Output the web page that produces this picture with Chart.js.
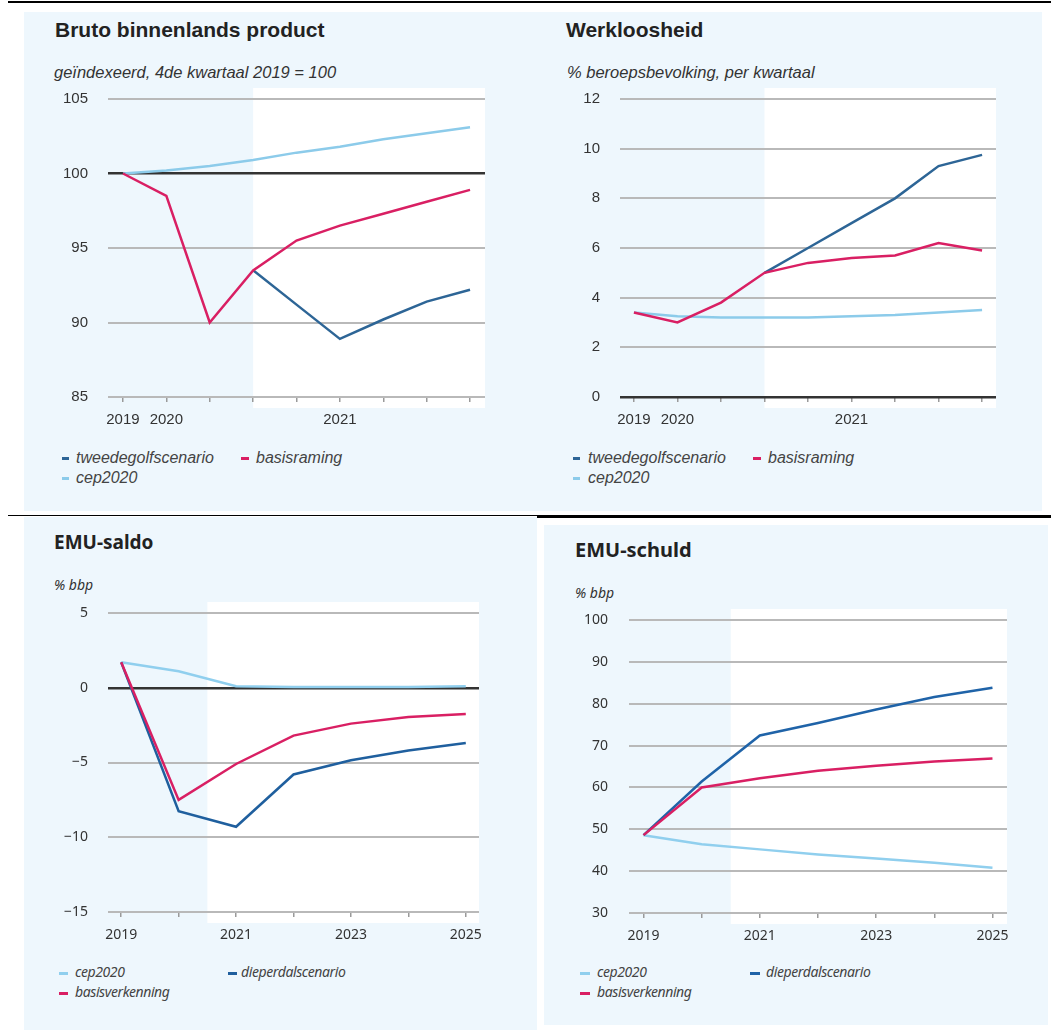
<!DOCTYPE html>
<html>
<head>
<meta charset="utf-8">
<script src="https://cdn.jsdelivr.net/npm/chart.js"></script>
<style>
  body { margin: 0; width: 1051px; height: 1030px; background: #fff; position: relative; overflow: hidden; }
  .bg { position: absolute; background: #eef7fd; }
  .rule { position: absolute; background: #000; }
  .top { font-family: "Liberation Sans", Arial, sans-serif; color: #222; }
  .bot { font-family: "Noto Sans", sans-serif; color: #222; }
  .title { position: absolute; font-weight: bold; line-height: 1; white-space: nowrap; }
  .sub { position: absolute; font-style: italic; line-height: 1; white-space: nowrap; color: #333; }
  .leg { position: absolute; font-style: italic; line-height: 1; white-space: nowrap; color: #444; }
  .dash { position: absolute; height: 3px; }
  canvas { position: absolute; }
</style>
</head>
<body>

<!-- page furniture -->
<div class="rule" style="left:8px; top:1px; width:1043px; height:2px;"></div>
<div class="bg" style="left:24px; top:12px; width:509px; height:499px;"></div>
<div class="bg" style="left:533px; top:12px; width:509px; height:499px;"></div>
<div class="rule" style="left:8px; top:515px; width:529px; height:1px;"></div>
<div class="rule" style="left:537px; top:515px; width:514px; height:2.5px;"></div>
<div class="bg" style="left:24px; top:517px; width:513px; height:513px;"></div>
<div class="bg" style="left:544px; top:525px; width:504px; height:500px;"></div>

<!-- panel 1 -->
<div class="title top" style="left:55px; top:19px; font-size:21px;">Bruto binnenlands product</div>
<div class="sub top" style="left:54px; top:64px; font-size:16.5px;">geïndexeerd, 4de kwartaal 2019 = 100</div>
<canvas id="bbp"></canvas>
<div class="dash" style="left:62px; top:456.5px; width:7px; background:#2d6596;"></div>
<div class="leg top" style="left:76px; top:450px; font-size:16px;">tweedegolfscenario</div>
<div class="dash" style="left:241px; top:456.5px; width:8px; background:#d91f63;"></div>
<div class="leg top" style="left:256px; top:450px; font-size:16px;">basisraming</div>
<div class="dash" style="left:62px; top:476.5px; width:7px; background:#8ccbea;"></div>
<div class="leg top" style="left:76px; top:470px; font-size:16px;">cep2020</div>

<!-- panel 2 -->
<div class="title top" style="left:566px; top:19px; font-size:21px;">Werkloosheid</div>
<div class="sub top" style="left:567px; top:64px; font-size:16.5px;">% beroepsbevolking, per kwartaal</div>
<canvas id="wl"></canvas>
<div class="dash" style="left:573px; top:456.5px; width:7px; background:#2d6596;"></div>
<div class="leg top" style="left:588px; top:450px; font-size:16px;">tweedegolfscenario</div>
<div class="dash" style="left:753px; top:456.5px; width:8px; background:#d91f63;"></div>
<div class="leg top" style="left:768px; top:450px; font-size:16px;">basisraming</div>
<div class="dash" style="left:573px; top:476.5px; width:7px; background:#8ccbea;"></div>
<div class="leg top" style="left:588px; top:470px; font-size:16px;">cep2020</div>

<!-- panel 3 -->
<div class="title bot" style="left:54px; top:533px; font-size:19px;">EMU-saldo</div>
<div class="sub bot" style="left:54px; top:578px; font-size:14px;">% bbp</div>
<canvas id="saldo"></canvas>
<div class="dash" style="left:59px; top:972px; width:9px; background:#90cfee;"></div>
<div class="leg bot" style="left:75px; top:965px; font-size:14px; letter-spacing:-0.4px;">cep2020</div>
<div class="dash" style="left:228px; top:972px; width:9px; background:#1f5f9e;"></div>
<div class="leg bot" style="left:241px; top:965px; font-size:14px; letter-spacing:-0.4px;">dieperdalscenario</div>
<div class="dash" style="left:59px; top:992px; width:9px; background:#d91f63;"></div>
<div class="leg bot" style="left:75px; top:985px; font-size:14px; letter-spacing:-0.4px;">basisverkenning</div>

<!-- panel 4 -->
<div class="title bot" style="left:575px; top:540px; font-size:20px;">EMU-schuld</div>
<div class="sub bot" style="left:575px; top:586px; font-size:14px;">% bbp</div>
<canvas id="schuld"></canvas>
<div class="dash" style="left:580px; top:972px; width:10px; background:#90cfee;"></div>
<div class="leg bot" style="left:597px; top:965px; font-size:14px; letter-spacing:-0.4px;">cep2020</div>
<div class="dash" style="left:750px; top:972px; width:10px; background:#1f63a8;"></div>
<div class="leg bot" style="left:766px; top:965px; font-size:14px; letter-spacing:-0.4px;">dieperdalscenario</div>
<div class="dash" style="left:580px; top:992px; width:10px; background:#d91f63;"></div>
<div class="leg bot" style="left:597px; top:985px; font-size:14px; letter-spacing:-0.4px;">basisverkenning</div>

<script>
// Bruto binnenlands product, geindexeerd (4de kwartaal 2019 = 100), per kwartaal
var bbpLabels = ['2019', '2020', '', '', '', '2021', '', '', ''];
var bbpTweedegolf = [null, null, null, 93.5, 91.2, 88.9, 90.2, 91.4, 92.2];
var bbpBasis = [100, 98.5, 90.0, 93.5, 95.5, 96.5, 97.3, 98.1, 98.9];
var bbpCep = [100, 100.2, 100.5, 100.9, 101.4, 101.8, 102.3, 102.7, 103.1];

// Werkloosheid, % beroepsbevolking, per kwartaal
var wlLabels = ['2019', '2020', '', '', '', '2021', '', '', ''];
var wlTweedegolf = [null, null, null, 5.0, 6.0, 7.0, 8.0, 9.3, 9.75];
var wlBasis = [3.4, 3.0, 3.8, 5.0, 5.4, 5.6, 5.7, 6.2, 5.9];
var wlCep = [3.4, 3.25, 3.2, 3.2, 3.2, 3.25, 3.3, 3.4, 3.5];

// EMU-saldo, % bbp, per jaar
var saldoLabels = ['2019', '', '2021', '', '2023', '', '2025'];
var saldoCep = [1.7, 1.1, 0.1, 0.05, 0.05, 0.05, 0.1];
var saldoBasis = [1.7, -7.5, -5.1, -3.2, -2.4, -1.95, -1.75];
var saldoDieperdal = [1.7, -8.25, -9.3, -5.8, -4.85, -4.2, -3.7];

// EMU-schuld, % bbp, per jaar
var schuldLabels = ['2019', '', '2021', '', '2023', '', '2025'];
var schuldCep = [48.6, 46.4, 45.2, 44.0, 43.0, 42.0, 40.8];
var schuldBasis = [48.6, 60.0, 62.2, 64.0, 65.2, 66.2, 66.9];
var schuldDieperdal = [48.6, 61.4, 72.4, 75.4, 78.6, 81.6, 83.8];

var TOP_FONT = '"Liberation Sans", Arial, sans-serif';
var BOT_FONT = '"Noto Sans", sans-serif';

// white "raming" area behind the grid, from a given x value to the right edge
var shadePlugin = {
  id: 'shade',
  beforeDraw: function (chart, args, opts) {
    var ctx = chart.ctx;
    var area = chart.chartArea;
    var x0 = chart.scales.x.getPixelForValue(opts.from);
    ctx.save();
    ctx.fillStyle = '#ffffff';
    ctx.fillRect(x0, area.top - opts.pad, area.right - x0, area.bottom - area.top + 2 * opts.pad);
    ctx.restore();
  }
};

function points(values) {
  return values.map(function (v, i) { return { x: i, y: v }; });
}

function series(values, color) {
  return {
    data: points(values),
    borderColor: color,
    borderWidth: 2.5,
    pointRadius: 0,
    tension: 0,
    fill: false
  };
}

// area = chart area in page pixels; the canvas is placed around it
function makeChart(id, c) {
  var box = { left: c.area.left - 90, top: c.area.top - 20, right: c.area.right + 12, bottom: c.area.bottom + 40 };
  var cv = document.getElementById(id);
  cv.width = box.right - box.left;
  cv.height = box.bottom - box.top;
  cv.style.left = box.left + 'px';
  cv.style.top = box.top + 'px';
  var n = c.labels.length;

  return new Chart(cv, {
    type: 'line',
    data: { datasets: c.datasets },
    plugins: [shadePlugin],
    options: {
      responsive: false,
      animation: false,
      events: [],
      layout: { padding: { top: c.area.top - box.top, right: box.right - c.area.right, left: 0, bottom: 0 } },
      plugins: {
        legend: { display: false },
        tooltip: { enabled: false },
        shade: { from: c.shadeFrom, pad: 11 }
      },
      scales: {
        x: {
          type: 'linear',
          min: -c.xPad,
          max: n - 1 + c.xPad,
          afterBuildTicks: function (s) { s.ticks = c.labels.map(function (l, i) { return { value: i }; }); },
          afterFit: function (s) {
            s.height = box.bottom - c.area.bottom;
            s.paddingLeft = 0;
            s.paddingRight = 0;
          },
          border: { display: false },
          grid: { drawOnChartArea: false, drawTicks: true, tickLength: 5, color: '#9a9a9a', lineWidth: 1.5 },
          ticks: {
            autoSkip: false,
            maxRotation: 0,
            padding: c.xGap,
            color: '#333',
            font: { family: c.font, size: c.tickSize },
            callback: function (v) { return c.labels[v]; }
          }
        },
        y: {
          min: c.yMin,
          max: c.yMax,
          afterBuildTicks: function (s) {
            var t = [];
            for (var v = c.yMin; v <= c.yMax; v += c.yStep) t.push({ value: v });
            s.ticks = t;
          },
          afterFit: function (s) {
            s.width = c.area.left - box.left;
            s.paddingTop = 0;
            s.paddingBottom = 0;
          },
          border: { display: false },
          grid: {
            drawTicks: false,
            color: function (ctx) { return ctx.tick.value === c.darkAt ? '#333333' : '#b9b9b9'; },
            lineWidth: function (ctx) { return ctx.tick.value === c.darkAt ? 2.5 : 2; }
          },
          ticks: {
            padding: c.labelGap,
            color: '#333',
            font: { family: c.font, size: c.tickSize },
            callback: function (v) { return v < 0 ? '\u2212' + Math.abs(v) : String(v); }
          }
        }
      }
    }
  });
}

makeChart('bbp', {
  area: { left: 108, top: 99, right: 485, bottom: 397 },
  labels: bbpLabels, xPad: 0.345, shadeFrom: 3,
  yMin: 85, yMax: 105, yStep: 5, darkAt: 100,
  font: TOP_FONT, tickSize: 15, labelGap: 20, xGap: 9,
  datasets: [series(bbpBasis, '#d91f63'), series(bbpTweedegolf, '#2d6596'), series(bbpCep, '#8ccbea')]
});

makeChart('wl', {
  area: { left: 620, top: 99, right: 996, bottom: 397 },
  labels: wlLabels, xPad: 0.32, shadeFrom: 3,
  yMin: 0, yMax: 12, yStep: 2, darkAt: 0,
  font: TOP_FONT, tickSize: 15, labelGap: 20, xGap: 9,
  datasets: [series(wlBasis, '#d91f63'), series(wlTweedegolf, '#2d6596'), series(wlCep, '#8ccbea')]
});

makeChart('saldo', {
  area: { left: 108, top: 613, right: 479, bottom: 912 },
  labels: saldoLabels, xPad: 0.23, shadeFrom: 1.5,
  yMin: -15, yMax: 5, yStep: 5, darkAt: 0,
  font: BOT_FONT, tickSize: 14, labelGap: 20, xGap: 10,
  datasets: [series(saldoBasis, '#d91f63'), series(saldoDieperdal, '#1f5f9e'), series(saldoCep, '#90cfee')]
});

makeChart('schuld', {
  area: { left: 629, top: 620, right: 1007, bottom: 913 },
  labels: schuldLabels, xPad: 0.25, shadeFrom: 1.5,
  yMin: 30, yMax: 100, yStep: 10, darkAt: null,
  font: BOT_FONT, tickSize: 14, labelGap: 21, xGap: 10,
  datasets: [series(schuldBasis, '#d91f63'), series(schuldDieperdal, '#1f63a8'), series(schuldCep, '#90cfee')]
});
</script>
</body>
</html>
